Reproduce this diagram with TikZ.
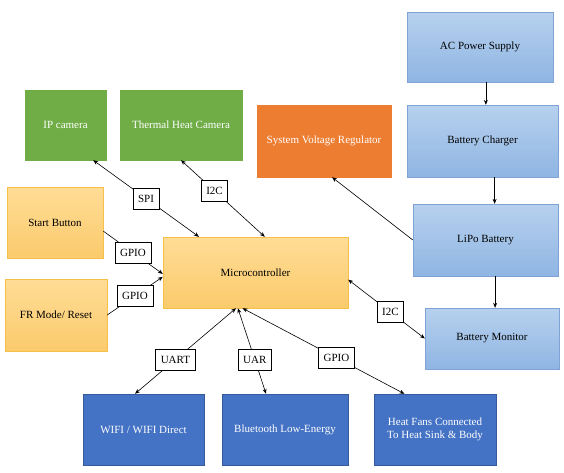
\documentclass[tikz,border=0pt]{standalone}
\usepackage{fontspec}
\setmainfont{Liberation Serif}
\usetikzlibrary{arrows.meta,calc}

\definecolor{boxgreen}{HTML}{70AD47}
\definecolor{boxorange}{HTML}{ED7D31}
\definecolor{boxblue}{HTML}{4472C4}
\definecolor{lbluetop}{HTML}{B7D1EE}
\definecolor{lbluebot}{HTML}{8FB5E3}
\definecolor{lblueline}{HTML}{7EA3D4}
\definecolor{ylwtop}{HTML}{FFDC96}
\definecolor{ylwbot}{HTML}{FBCB6C}
\definecolor{ylwline}{HTML}{F6C04A}

\tikzset{
  block/.style={rectangle, inner sep=2pt, align=center, font=\fontsize{11}{13}\selectfont},
  greenblock/.style={block, fill=boxgreen, draw=boxgreen, text=white},
  orangeblock/.style={block, fill=boxorange, draw=boxorange, text=white},
  blueblock/.style={block, fill=boxblue, draw=boxblue!80!black, text=white},
  lblueblock/.style={block, top color=lbluetop, bottom color=lbluebot, draw=lblueline},
  ylwblock/.style={block, top color=ylwtop, bottom color=ylwbot, draw=ylwline},
  buslabel/.style={rectangle, draw=black, fill=white, line width=0.6pt, minimum height=21pt,
    inner xsep=5pt, font=\fontsize{11}{13}\selectfont},
  link/.style={line width=0.6pt, black},
  >={Stealth[length=5pt,width=4pt]}
}

\begin{document}
\begin{tikzpicture}[x=1pt,y=-1pt]
  \useasboundingbox (0,0) rectangle (564,472);

  % Sensoren
  \node[greenblock, minimum width=81pt, minimum height=70pt] (ipcam) at (65.5,125) {IP camera};
  \node[greenblock, minimum width=122pt, minimum height=70pt] (thermal) at (181,125) {Thermal Heat Camera};

  % Knoppen
  \node[ylwblock, minimum width=96pt, minimum height=71pt] (startbtn) at (55,222.5) {Start Button};
  \node[ylwblock, minimum width=102pt, minimum height=72pt] (frmode) at (56,315) {FR Mode/ Reset};

  % Microcontroller
  \node[ylwblock, minimum width=185pt, minimum height=71pt] (micro) at (255.5,272.5) {Microcontroller};

  % Voeding
  \node[orangeblock, minimum width=134pt, minimum height=72pt] (volreg) at (324,141) {System Voltage Regulator};
  \node[lblueblock, minimum width=146pt, minimum height=70pt] (acpower) at (480,47) {AC Power Supply};
  \node[lblueblock, minimum width=151pt, minimum height=72pt] (charger) at (482.5,141) {Battery Charger};
  \node[lblueblock, minimum width=145pt, minimum height=72pt] (lipo) at (485.5,240) {LiPo Battery};
  \node[lblueblock, minimum width=134pt, minimum height=61pt] (batmon) at (492,338.5) {Battery Monitor};

  % Draadloos en koeling
  \node[blueblock, minimum width=121pt, minimum height=71pt] (wifi) at (143.5,429.5) {WIFI / WIFI Direct};
  \node[blueblock, minimum width=126pt, minimum height=71pt] (bluetooth) at (285,429.5) {Bluetooth Low-Energy};
  \node[blueblock, minimum width=122pt, minimum height=71pt] (heatfans) at (435,429.5) {Heat Fans Connected\\To Heat Sink \& Body};

  % Bussen naar de microcontroller
  \draw[link,<->] ($(ipcam.south west)!0.84!(ipcam.south east)$) -- node[buslabel] (spi) {SPI}
    ($(micro.north west)!0.195!(micro.north east)$);
  \draw[link,<->] (thermal.south) -- node[buslabel, pos=0.4] (i2ccam) {I2C}
    ($(micro.north west)!0.55!(micro.north east)$);
  \draw[link,->] ($(startbtn.north east)!0.62!(startbtn.south east)$) -- node[buslabel] (gpiostart) {GPIO}
    ($(micro.north west)!0.52!(micro.south west)$);
  \draw[link,->] (frmode.east) -- node[buslabel] (gpiofr) {GPIO}
    ($(micro.north west)!0.56!(micro.south west)$);
  \draw[link,<->] ($(micro.south west)!0.395!(micro.south east)$) -- node[buslabel, pos=0.6] (uart) {UART}
    ($(wifi.north west)!0.43!(wifi.north east)$);
  \draw[link,<->] ($(micro.south west)!0.405!(micro.south east)$) -- node[buslabel, pos=0.6] (uar) {UAR}
    ($(bluetooth.north west)!0.35!(bluetooth.north east)$);
  \draw[link,<->] ($(micro.south west)!0.43!(micro.south east)$) -- node[buslabel, pos=0.58] (gpiofan) {GPIO}
    ($(heatfans.north west)!0.25!(heatfans.north east)$);
  \draw[link,<->] ($(micro.north east)!0.6!(micro.south east)$) -- node[buslabel, pos=0.55] (i2cmon) {I2C}
    (batmon.west);

  % Voedingsketen
  \draw[link,->] (lipo.west) -- ($(volreg.south west)!0.56!(volreg.south east)$);
  \coordinate (acout) at ($(acpower.south west)!0.54!(acpower.south east)$);
  \draw[link,->] (acout) -- (acout |- charger.north);
  \coordinate (chgout) at ($(charger.south west)!0.58!(charger.south east)$);
  \draw[link,->] (chgout) -- (chgout |- lipo.north);
  \coordinate (lipoout) at ($(lipo.south west)!0.566!(lipo.south east)$);
  \draw[link,->] (lipoout) -- (lipoout |- batmon.north);
\end{tikzpicture}
\end{document}
